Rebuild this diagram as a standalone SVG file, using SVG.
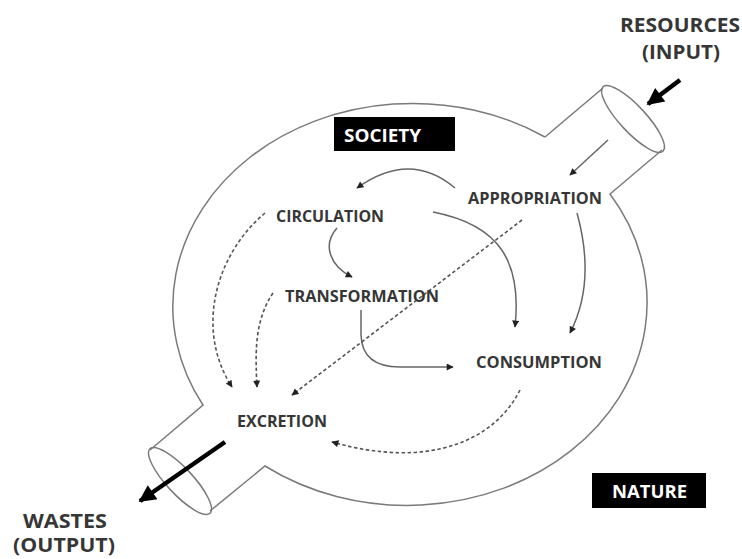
<svg xmlns="http://www.w3.org/2000/svg" width="742" height="559" viewBox="0 0 742 559">
<style>
.outline{fill:none;stroke:#7a7a7a;stroke-width:1.5}
.conn{fill:none;stroke:#666;stroke-width:1.5}
.dash{fill:none;stroke:#555;stroke-width:1.6;stroke-dasharray:3.5 2.5}
.thick{fill:none;stroke:#000;stroke-width:4.5}
.lbl{font-family:"Open Sans","Liberation Sans",sans-serif;font-weight:700;fill:#363636;font-size:15.5px}
.big{font-family:"Open Sans","Liberation Sans",sans-serif;font-weight:700;fill:#363636;font-size:19px}
.tag{font-family:"Open Sans","Liberation Sans",sans-serif;font-weight:700;fill:#fff;font-size:18px}
</style>
<defs>
<marker id="ah" viewBox="0 0 10 10" refX="9" refY="5" markerWidth="8" markerHeight="7" markerUnits="userSpaceOnUse" orient="auto">
<path d="M0,0 L10,5 L0,10 z" fill="#222"/>
</marker>
<marker id="big" viewBox="0 0 10 10" refX="9" refY="5" markerWidth="22" markerHeight="17" markerUnits="userSpaceOnUse" orient="auto">
<path d="M0,0 L10,5 L0,10 z" fill="#000"/>
</marker>
</defs>
<g id="vessel">
<path class="outline" d="M545,137 A240,203 0 0 0 203,405 L150,450 M210,511 L265,466 A240,203 0 0 0 610,194 L662,150 M603,88 L545,137"/>
<ellipse class="outline" cx="633" cy="119" rx="44" ry="13" transform="rotate(47 633 119)"/>
<ellipse class="outline" cx="180" cy="481" rx="44" ry="13" transform="rotate(47 180 481)"/>
</g>
<g id="connectors">
<path class="thick" d="M680,80 L648,104" marker-end="url(#big)"/>
<path class="thick" d="M225,442 L140,501" marker-end="url(#big)"/>
<path class="conn" d="M608,140 L570,175" marker-end="url(#ah)"/>
<path class="conn" d="M455,188 Q410,150 357,188" marker-end="url(#ah)"/>
<path class="conn" d="M433,212 C500,225 522,262 515,327" marker-end="url(#ah)"/>
<path class="conn" d="M577,213 C590,260 587,300 570,333" marker-end="url(#ah)"/>
<path class="conn" d="M337,228 C322,245 330,266 352,277" marker-end="url(#ah)"/>
<path class="conn" d="M361,310 L361,335 Q362,367 400,367 L453,367" marker-end="url(#ah)"/>
<path class="dash" d="M265,213 C215,255 195,330 232,387" marker-end="url(#ah)"/>
<path class="dash" d="M273,293 C255,320 255,350 257,387" marker-end="url(#ah)"/>
<path class="dash" d="M522,220 L292,395" marker-end="url(#ah)"/>
<path class="dash" d="M520,390 C495,440 430,470 332,442" marker-end="url(#ah)"/>
</g>
<g id="society">
<rect x="334" y="117" width="121" height="34" fill="#000"/>
<text class="tag" x="344" y="142" textLength="77" lengthAdjust="spacingAndGlyphs">SOCIETY</text>
</g>
<g id="nature">
<rect x="592" y="473" width="114" height="35" fill="#000"/>
<text class="tag" x="612" y="498" textLength="75" lengthAdjust="spacingAndGlyphs">NATURE</text>
</g>
<g id="resources">
<text class="big" x="620" y="32" textLength="120" lengthAdjust="spacingAndGlyphs">RESOURCES</text>
<text class="big" x="642" y="59" textLength="78" lengthAdjust="spacingAndGlyphs">(INPUT)</text>
</g>
<g id="wastes">
<text class="big" x="23" y="528" textLength="84" lengthAdjust="spacingAndGlyphs">WASTES</text>
<text class="big" x="13" y="552" textLength="102" lengthAdjust="spacingAndGlyphs">(OUTPUT)</text>
</g>
<g id="appropriation"><text class="lbl" x="468" y="204" textLength="134" lengthAdjust="spacingAndGlyphs">APPROPRIATION</text></g>
<g id="circulation"><text class="lbl" x="276" y="222" textLength="108" lengthAdjust="spacingAndGlyphs">CIRCULATION</text></g>
<g id="transformation"><text class="lbl" x="285" y="302" textLength="154" lengthAdjust="spacingAndGlyphs">TRANSFORMATION</text></g>
<g id="consumption"><text class="lbl" x="476" y="368" textLength="126" lengthAdjust="spacingAndGlyphs">CONSUMPTION</text></g>
<g id="excretion"><text class="lbl" x="237" y="427" textLength="90" lengthAdjust="spacingAndGlyphs">EXCRETION</text></g>
</svg>
